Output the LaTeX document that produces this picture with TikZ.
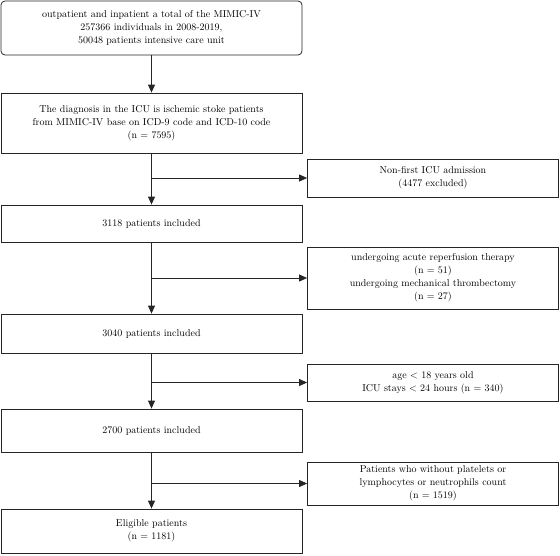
\documentclass[tikz,border=0pt]{standalone}
\usetikzlibrary{positioning, arrows.meta}

\begin{document}
\begin{tikzpicture}[x=1pt,y=-1pt,>={Triangle[length=8pt,width=7pt]},line width=0.8pt,
  font=\fontsize{10}{13}\selectfont,
  mainbox/.style={draw=black!85, align=center, minimum width=301pt, inner sep=0pt},
  exclbox/.style={draw=black!85, align=center, minimum width=251pt, inner sep=0pt},
  flow/.style={->, draw=black!85}]

  \useasboundingbox (0,0) rectangle (560,555);

  \node[mainbox, rounded corners=4pt, minimum height=54pt] (start) at (151.5,28)
    {outpatient and inpatient a total of the MIMIC-IV\\257366 individuals in 2008-2019,\\50048 patients intensive care unit};
  \node[mainbox, minimum height=60pt] (diag) at (151.5,123)
    {The diagnosis in the ICU is ischemic stoke patients\\from MIMIC-IV base on ICD-9 code and ICD-10 code\\(n = 7595)};
  \node[exclbox, minimum height=38pt] (ex1) at (433,178)
    {Non-first ICU admission\\(4477 excluded)};
  \node[mainbox, minimum height=37pt] (n3118) at (151.5,223.5) {3118 patients included};
  \node[exclbox, minimum height=62pt] (ex2) at (433,278)
    {undergoing acute reperfusion therapy\\(n = 51)\\undergoing mechanical thrombectomy\\(n = 27)};
  \node[mainbox, minimum height=39pt] (n3040) at (151.5,333.5) {3040 patients included};
  \node[exclbox, minimum height=37pt] (ex3) at (433,382.5)
    {age $<$ 18 years old\\ICU stays $<$ 24 hours (n = 340)};
  \node[mainbox, minimum height=43pt] (n2700) at (151.5,430.5) {2700 patients included};
  \node[exclbox, minimum height=43pt] (ex4) at (433,483.5)
    {Patients who without platelets or\\lymphocytes or neutrophils count\\(n = 1519)};
  \node[mainbox, minimum height=44pt] (final) at (151.5,531) {Eligible patients\\(n = 1181)};

  % main flow
  \draw[flow] (start) -- (diag);
  \draw[flow] (diag) -- (n3118);
  \draw[flow] (n3118) -- (n3040);
  \draw[flow] (n3040) -- (n2700);
  \draw[flow] (n2700) -- (final);

  % exclusions
  \coordinate (j1) at (diag.south |- ex1.west);
  \coordinate (j2) at (n3118.south |- ex2.west);
  \coordinate (j3) at (n3040.south |- ex3.west);
  \coordinate (j4) at (n2700.south |- ex4.west);
  \draw[flow] (j1) -- (ex1);
  \draw[flow] (j2) -- (ex2);
  \draw[flow] (j3) -- (ex3);
  \draw[flow] (j4) -- (ex4);

\end{tikzpicture}
\end{document}
